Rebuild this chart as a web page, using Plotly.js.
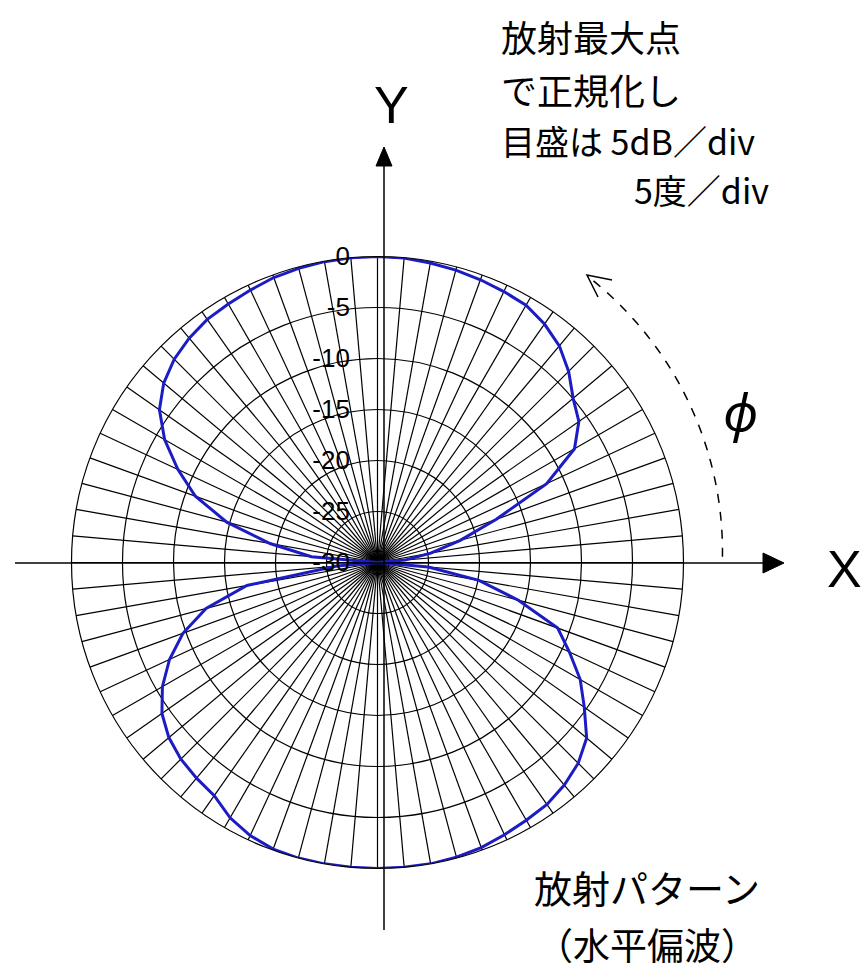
<!DOCTYPE html>
<html><head><meta charset="utf-8">
<script src="https://cdn.plot.ly/plotly-3.0.1.min.js"></script>
<style>html,body{margin:0;padding:0;background:#fff}#chart{width:863px;height:973px}</style>
</head><body><div id="chart"></div>
<script>
// Measured radiation pattern (horizontal polarization), normalized to max, dB
const angleDeg = [0,5,10,15,20,25,30,35,40,45,50,55,60,65,70,75,80,85,90,
  95,100,105,110,115,120,125,130,135,140,145,150,155,160,165,170,175,180,
  185,190,195,200,205,210,215,220,225,230,235,240,245,250,255,260,265,270,
  275,280,285,290,295,300,305,310,315,320,325,330,335,340,345,350,355,360];
const gainDb = [-30,-27.3,-24.7,-21.6,-17.6,-11.7,-7.7,-5.9,-4.96,-3.5,-2.27,-1.46,-0.88,-0.69,-0.5,-0.33,-0.18,-0.04,0,
  0,-0.05,-0.15,-0.27,-0.53,-0.74,-0.9,-1.28,-1.82,-2.64,-3.9,-5.9,-8.4,-11.0,-14.7,-19.3,-23.5,-30,
  -26,-17,-12.6,-9.7,-7.5,-5.65,-4.2,-3.3,-2.74,-2.4,-2.1,-1.1,-0.46,-0.1,0,0,0,0,
  0,0,-0.1,-0.25,-0.55,-0.83,-1.04,-1.51,-2.17,-3.23,-5.25,-7.05,-9.24,-11.2,-15.7,-19.9,-25,-30];
const radialTicks = [-30,-25,-20,-15,-10,-5,0];
const radialTickLabels = ['-30','-25','-20','-15','-10','-5','0'];
const noteLines = ['放射最大点','で正規化し','目盛は 5dB／div','5度／div'];
const captionLines = ['放射パターン','（水平偏波）'];

const W = 863, H = 973;
const px = x => x / W, py = y => 1 - y / H;
const cx = 377.5, cy = 562.5, R = 306;
const JP = 'Noto Sans CJK JP';

const trace = {
  type: 'scatterpolar', mode: 'lines',
  theta: angleDeg, r: gainDb,
  line: {color: '#1c1cc4', width: 3},
  cliponaxis: false, hoverinfo: 'skip'
};

// dashed phi arc
let arc = '';
const a0 = 0.96, a1 = 53;
for (let i = 0; i <= 40; i++) {
  const a = a0 + (a1 - a0) * i / 40;
  const rr = 345 + 10 * i / 40;
  const x = cx + rr * Math.cos(a * Math.PI / 180);
  const y = cy - rr * Math.sin(a * Math.PI / 180);
  arc += (i === 0 ? 'M ' : ' L ') + px(x) + ',' + py(y);
}

const shapes = [
  {type: 'line', xref: 'paper', yref: 'paper', x0: px(384), y0: py(930), x1: px(384), y1: py(162), line: {color: '#000', width: 1.5}},
  {type: 'line', xref: 'paper', yref: 'paper', x0: px(15), y0: py(563), x1: px(766), y1: py(563), line: {color: '#000', width: 1.5}},
  {type: 'path', xref: 'paper', yref: 'paper', path: `M ${px(763)},${py(553)} L ${px(784)},${py(563)} L ${px(763)},${py(573)} Z`, fillcolor: '#000', line: {color: '#000', width: 1}},
  {type: 'path', xref: 'paper', yref: 'paper', path: `M ${px(376)},${py(166)} L ${px(384)},${py(147)} L ${px(392)},${py(166)} Z`, fillcolor: '#000', line: {color: '#000', width: 1}},
  {type: 'path', xref: 'paper', yref: 'paper', path: arc, line: {color: '#000', width: 1.5, dash: 'dash'}},
  {type: 'path', xref: 'paper', yref: 'paper', path: `M ${px(612)},${py(280)} L ${px(587)},${py(275)} L ${px(598)},${py(297)}`, line: {color: '#000', width: 1.5}}
];

const ann = (text, x, y, size, xanchor, family) => ({
  text, x: px(x), y: py(y), xref: 'paper', yref: 'paper', showarrow: false,
  xanchor: xanchor || 'center', yanchor: 'middle',
  font: {family: family || JP, size, color: '#000'}
});

const annotations = [
  ann('Y', 391, 105, 52, 'center', 'Liberation Sans'),
  ann('X', 844, 569, 52, 'center', 'Liberation Sans'),
  ann('<i>ϕ</i>', 740, 410, 52, 'center', 'Noto Sans'),
  ann(noteLines[0], 499, 36, 36, 'left'),
  ann(noteLines[1], 499, 89, 36, 'left'),
  ann(noteLines[2], 499, 140, 34, 'left'),
  ann(noteLines[3], 771, 190, 34, 'right'),
  ann(captionLines[0], 647, 886, 38, 'center'),
  ann(captionLines[1], 647, 944, 37, 'center')
];

const layout = {
  width: W, height: H,
  margin: {l: 0, r: 0, t: 0, b: 0},
  paper_bgcolor: '#fff',
  showlegend: false,
  polar: {
    domain: {x: [px(cx - R), px(cx + R)], y: [py(cy + R), py(cy - R)]},
    bgcolor: '#fff',
    angularaxis: {
      rotation: 0, direction: 'counterclockwise',
      tickmode: 'linear', dtick: 5, showticklabels: false, ticks: '',
      showgrid: true, gridcolor: '#000', gridwidth: 1.2,
      showline: true, linecolor: '#000', linewidth: 1.2
    },
    radialaxis: {
      range: [-30, 0], angle: 90, side: 'counterclockwise',
      tickmode: 'array', tickvals: radialTicks, ticktext: radialTickLabels,
      tickangle: 90, ticks: 'outside', ticklen: 18, tickcolor: 'rgba(0,0,0,0)',
      tickfont: {family: 'Liberation Sans', size: 26, color: '#000'},
      showgrid: true, gridcolor: '#000', gridwidth: 1.2,
      showline: false
    }
  },
  shapes, annotations
};

Plotly.newPlot('chart', [trace], layout, {staticPlot: true, displayModeBar: false});
</script></body></html>
